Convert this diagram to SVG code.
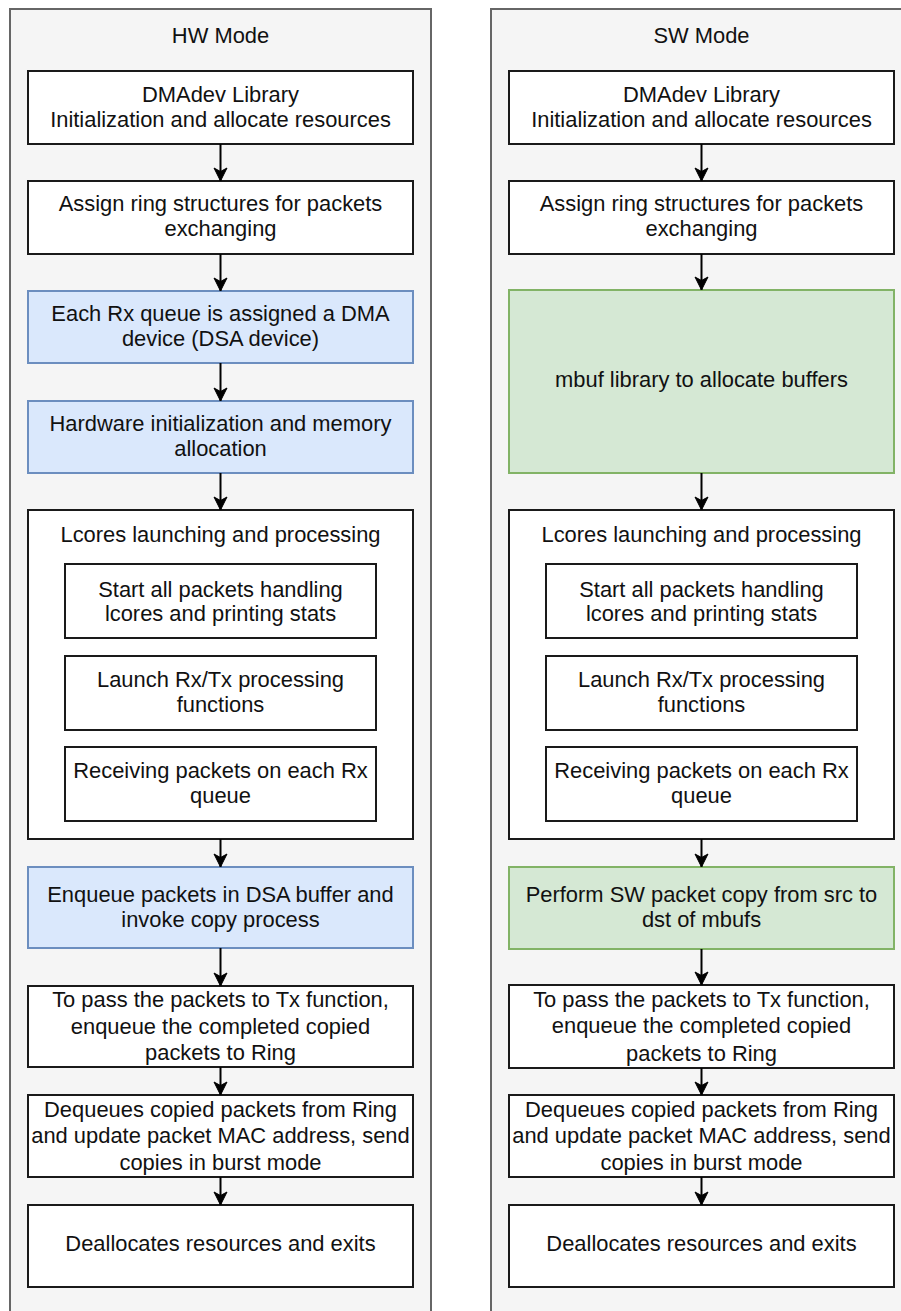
<svg xmlns="http://www.w3.org/2000/svg" width="901" height="1311" viewBox="0 0 901 1311">
<style>
.bg{fill:#ffffff}
.cont{fill:#f5f5f5;stroke:#666666;stroke-width:2}
.box{fill:#ffffff;stroke:#1a1a1a;stroke-width:2}
.blue{fill:#dae8fc;stroke:#6c8ebf;stroke-width:2}
.green{fill:#d5e8d4;stroke:#82b366;stroke-width:2}
text{font-family:"Liberation Sans",Arial,Helvetica,sans-serif;font-size:21.9px;fill:#111111;text-anchor:middle}
.edge{fill:none;stroke:#000000;stroke-width:2}
</style>
<defs>
<marker id="arr" markerUnits="userSpaceOnUse" markerWidth="16" markerHeight="16" refX="14" refY="7" orient="auto" viewBox="0 0 16 14">
<path d="M14,7 L1,0.5 L4.5,7 L1,13.5 Z" fill="#000000" stroke="#000000" stroke-width="1"/>
</marker>
</defs>
<rect class="bg" x="0" y="0" width="901" height="1311"/>

<g id="hw-container">
<rect class="cont" x="10" y="9" width="421" height="1320"/>
<text x="220.5" y="42.5">HW Mode</text>
</g>
<g id="sw-container">
<rect class="cont" x="491" y="9" width="421" height="1320"/>
<text x="701.5" y="42.5">SW Mode</text>
</g>

<g id="hw-init">
<rect class="box" x="28" y="71" width="385" height="73"/>
<text x="220.5" y="101.7">DMAdev Library</text>
<text x="220.5" y="126.7">Initialization and allocate resources</text>
</g>
<g id="hw-ring">
<rect class="box" x="28" y="181" width="385" height="73"/>
<text x="220.5" y="211">Assign ring structures for packets</text>
<text x="220.5" y="236">exchanging</text>
</g>
<g id="hw-rxq">
<rect class="blue" x="28" y="291" width="385" height="72"/>
<text x="220.5" y="321">Each Rx queue is assigned a DMA</text>
<text x="220.5" y="346">device (DSA device)</text>
</g>
<g id="hw-hwinit">
<rect class="blue" x="28" y="401" width="385" height="72"/>
<text x="220.5" y="431">Hardware initialization and memory</text>
<text x="220.5" y="456">allocation</text>
</g>
<g id="hw-lcores">
<rect class="box" x="28" y="510" width="385" height="329"/>
<text x="220.5" y="541.5">Lcores launching and processing</text>
</g>
<g id="hw-start">
<rect class="box" x="65" y="564" width="311" height="74"/>
<text x="220.5" y="596.5">Start all packets handling</text>
<text x="220.5" y="621">lcores and printing stats</text>
</g>
<g id="hw-launch">
<rect class="box" x="65" y="656" width="311" height="74"/>
<text x="220.5" y="687.3">Launch Rx/Tx processing</text>
<text x="220.5" y="712">functions</text>
</g>
<g id="hw-recv">
<rect class="box" x="65" y="747" width="311" height="74"/>
<text x="220.5" y="778">Receiving packets on each Rx</text>
<text x="220.5" y="803">queue</text>
</g>
<g id="hw-enqueue">
<rect class="blue" x="28" y="867" width="385" height="81"/>
<text x="220.5" y="901.7">Enqueue packets in DSA buffer and</text>
<text x="220.5" y="926.7">invoke copy process</text>
</g>
<g id="hw-pass">
<rect class="box" x="28" y="986" width="385" height="81"/>
<text x="220.5" y="1007">To pass the packets to Tx function,</text>
<text x="220.5" y="1033.5">enqueue the completed copied</text>
<text x="220.5" y="1060.3">packets to Ring</text>
</g>
<g id="hw-dequeue">
<rect class="box" x="28" y="1095" width="385" height="82"/>
<text x="220.5" y="1116.7">Dequeues copied packets from Ring</text>
<text x="220.5" y="1143.3">and update packet MAC address, send</text>
<text x="220.5" y="1170">copies in burst mode</text>
</g>
<g id="hw-dealloc">
<rect class="box" x="28" y="1205" width="385" height="82"/>
<text x="220.5" y="1251">Deallocates resources and exits</text>
</g>

<g id="sw-init">
<rect class="box" x="509" y="71" width="385" height="73"/>
<text x="701.5" y="101.7">DMAdev Library</text>
<text x="701.5" y="126.7">Initialization and allocate resources</text>
</g>
<g id="sw-ring">
<rect class="box" x="509" y="181" width="385" height="73"/>
<text x="701.5" y="211">Assign ring structures for packets</text>
<text x="701.5" y="236">exchanging</text>
</g>
<g id="sw-mbuf">
<rect class="green" x="509" y="290" width="385" height="183"/>
<text x="701.5" y="386.7">mbuf library to allocate buffers</text>
</g>
<g id="sw-lcores">
<rect class="box" x="509" y="510" width="385" height="329"/>
<text x="701.5" y="541.5">Lcores launching and processing</text>
</g>
<g id="sw-start">
<rect class="box" x="546" y="564" width="311" height="74"/>
<text x="701.5" y="596.5">Start all packets handling</text>
<text x="701.5" y="621">lcores and printing stats</text>
</g>
<g id="sw-launch">
<rect class="box" x="546" y="656" width="311" height="74"/>
<text x="701.5" y="687.3">Launch Rx/Tx processing</text>
<text x="701.5" y="712">functions</text>
</g>
<g id="sw-recv">
<rect class="box" x="546" y="747" width="311" height="74"/>
<text x="701.5" y="778">Receiving packets on each Rx</text>
<text x="701.5" y="803">queue</text>
</g>
<g id="sw-copy">
<rect class="green" x="509" y="867" width="385" height="82"/>
<text x="701.5" y="901.7">Perform SW packet copy from src to</text>
<text x="701.5" y="926.7">dst of mbufs</text>
</g>
<g id="sw-pass">
<rect class="box" x="509" y="985" width="385" height="83"/>
<text x="701.5" y="1006.7">To pass the packets to Tx function,</text>
<text x="701.5" y="1033.3">enqueue the completed copied</text>
<text x="701.5" y="1060.5">packets to Ring</text>
</g>
<g id="sw-dequeue">
<rect class="box" x="509" y="1095" width="385" height="82"/>
<text x="701.5" y="1116.7">Dequeues copied packets from Ring</text>
<text x="701.5" y="1143.3">and update packet MAC address, send</text>
<text x="701.5" y="1170">copies in burst mode</text>
</g>
<g id="sw-dealloc">
<rect class="box" x="509" y="1205" width="385" height="82"/>
<text x="701.5" y="1251">Deallocates resources and exits</text>
</g>

<g id="connectors">
<path class="edge" marker-end="url(#arr)" d="M220.5,144 V181"/>
<path class="edge" marker-end="url(#arr)" d="M220.5,254 V291"/>
<path class="edge" marker-end="url(#arr)" d="M220.5,363 V401"/>
<path class="edge" marker-end="url(#arr)" d="M220.5,473 V510"/>
<path class="edge" marker-end="url(#arr)" d="M220.5,839 V867"/>
<path class="edge" marker-end="url(#arr)" d="M220.5,948 V986"/>
<path class="edge" marker-end="url(#arr)" d="M220.5,1067 V1095"/>
<path class="edge" marker-end="url(#arr)" d="M220.5,1177 V1205"/>
<path class="edge" marker-end="url(#arr)" d="M701.5,144 V181"/>
<path class="edge" marker-end="url(#arr)" d="M701.5,254 V290"/>
<path class="edge" marker-end="url(#arr)" d="M701.5,473 V510"/>
<path class="edge" marker-end="url(#arr)" d="M701.5,839 V867"/>
<path class="edge" marker-end="url(#arr)" d="M701.5,949 V985"/>
<path class="edge" marker-end="url(#arr)" d="M701.5,1068 V1095"/>
<path class="edge" marker-end="url(#arr)" d="M701.5,1177 V1205"/>
</g>
</svg>
